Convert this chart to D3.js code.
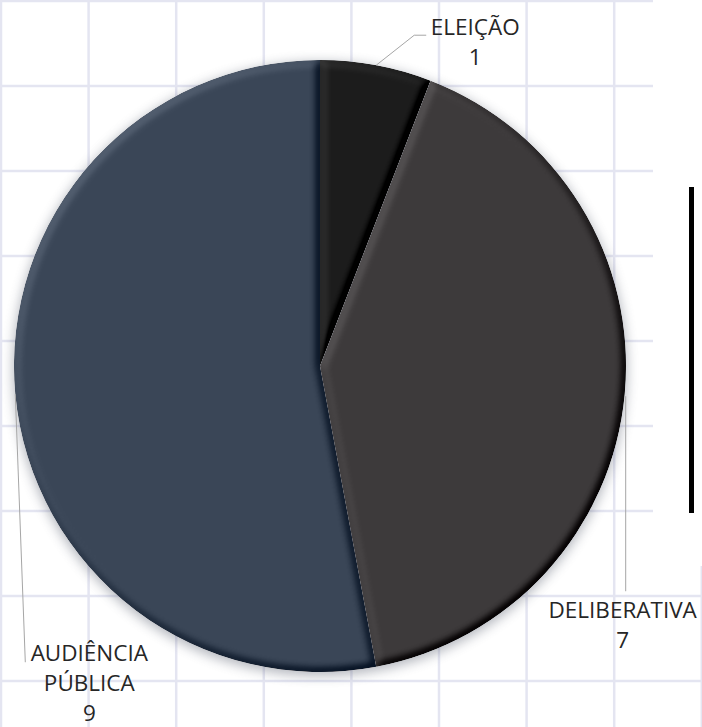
<!DOCTYPE html>
<html>
<head>
<meta charset="utf-8">
<script src="https://cdn.jsdelivr.net/npm/d3@7"></script>
<style>
  html, body { margin: 0; padding: 0; background: #fff; }
  svg { display: block; }
</style>
</head>
<body>
<svg id="chart" width="702" height="727"></svg>
<script>
// ---- data ----
const categories = ["ELEIÇÃO", "DELIBERATIVA", "AUDIÊNCIA PÚBLICA"];
const values = [1, 7, 9];
const labelLines = [["ELEIÇÃO"], ["DELIBERATIVA"], ["AUDIÊNCIA", "PÚBLICA"]];
const sliceColors = ["#1c1c1c", "#3d3a3b", "#3a4657"];

// ---- layout ----
const W = 702, H = 727;
const cx = 320, cy = 366, R = 306;
const svg = d3.select("#chart");

const defs = svg.append("defs");
const bevel = defs.append("filter").attr("id", "bevel")
  .attr("x", "-5%").attr("y", "-5%").attr("width", "110%").attr("height", "110%")
  .attr("color-interpolation-filters", "sRGB");
bevel.append("feGaussianBlur").attr("in", "SourceAlpha").attr("stdDeviation", 4).attr("result", "blur");
const dl = bevel.append("feDiffuseLighting").attr("in", "blur").attr("surfaceScale", 6)
  .attr("diffuseConstant", 1).attr("lighting-color", "#ffffff").attr("result", "light");
dl.append("feDistantLight").attr("azimuth", 225).attr("elevation", 45);
bevel.append("feComposite").attr("in", "SourceGraphic").attr("in2", "light")
  .attr("operator", "arithmetic").attr("k1", 0).attr("k2", 1).attr("k3", 0.3).attr("k4", -0.3 * Math.SQRT1_2)
  .attr("result", "lit");
bevel.append("feComposite").attr("in", "lit").attr("in2", "SourceAlpha").attr("operator", "in");

const shadow = defs.append("filter").attr("id", "shadow")
  .attr("x", "-20%").attr("y", "-20%").attr("width", "140%").attr("height", "140%");
shadow.append("feGaussianBlur").attr("stdDeviation", 6);

// ---- background grid ----
const grid = svg.append("g");
const colStep = 87.6, rowStep = 85;
d3.range(0, W, colStep).forEach(x => {
  grid.append("line").attr("x1", x + 1).attr("x2", x + 1).attr("y1", 0).attr("y2", H)
    .attr("stroke", "#e4e5f1").attr("stroke-width", 2.5);
});
d3.range(0, H, rowStep).forEach(y => {
  grid.append("line").attr("x1", 0).attr("x2", W).attr("y1", y + 1).attr("y2", y + 1)
    .attr("stroke", "#e4e5f1").attr("stroke-width", 2.5);
});
// blank area on the right
svg.append("rect").attr("x", 653).attr("y", 0).attr("width", W - 653).attr("height", 566).attr("fill", "#fff");

// vertical black bar
svg.append("rect").attr("x", 689).attr("y", 187).attr("width", 5).attr("height", 326).attr("fill", "#000");

// ---- pie ----
const pie = d3.pie().sort(null).value(d => d)(values);
const arc = d3.arc().innerRadius(0).outerRadius(R);

const g = svg.append("g").attr("transform", `translate(${cx},${cy})`);
g.append("circle").attr("cx", 0).attr("cy", 3).attr("r", R + 1)
  .attr("fill", "#5a6070").attr("opacity", 0.45).attr("filter", "url(#shadow)");

g.selectAll("path.slice").data(pie).join("path")
  .attr("class", "slice")
  .attr("d", arc)
  .attr("fill", (d, i) => sliceColors[i])
  .attr("filter", "url(#bevel)");

// ---- labels with leader lines ----
const pt = (a, r) => [Math.sin(a) * r, -Math.cos(a) * r];
const mid = d => (d.startAngle + d.endAngle) / 2;

const leaders = [
  d => { const p = pt(mid(d), R); return [p, [p[0] + 38, p[1] - 30], [p[0] + 50, p[1] - 30]]; },
  d => { const p = pt(mid(d), R); return [[p[0] + 1, p[1] + 2], [p[0] + 1, p[1] + 197]]; },
  d => { const p = pt(mid(d), R); return [p, [p[0] + 10, p[1] + 268]]; }
];
const labelPos = [
  d => { const p = pt(mid(d), R); return [p[0] + 99, p[1] - 30]; },
  d => { const p = pt(mid(d), R); return [p[0] - 2, p[1] + 224]; },
  d => { const p = pt(mid(d), R); return [p[0] + 74, p[1] + 267]; }
];
const lineH = 30;

pie.forEach((d, i) => {
  g.append("path")
    .attr("d", d3.line()(leaders[i](d)))
    .attr("fill", "none").attr("stroke", "#a6a6a6").attr("stroke-width", 1);
  const [lx, ly] = labelPos[i](d);
  const t = g.append("text")
    .attr("x", lx).attr("y", ly)
    .attr("text-anchor", "middle")
    .attr("font-family", "'Open Sans', sans-serif")
    .attr("font-size", 22.5)
    .attr("fill", "#262626");
  const lines = labelLines[i].concat([String(values[i])]);
  lines.forEach((s, k) => {
    t.append("tspan").attr("x", lx).attr("y", ly + k * lineH).text(s);
  });
});
</script>
</body>
</html>
